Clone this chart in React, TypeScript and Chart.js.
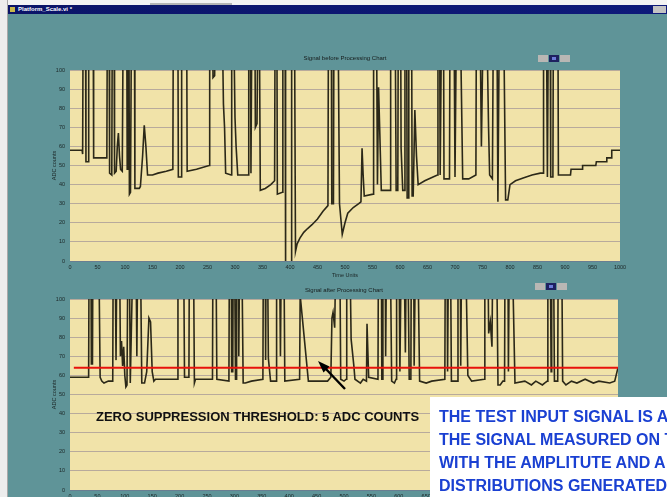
import React, { useEffect, useRef } from "react";
import { Chart, registerables } from "chart.js";

Chart.register(...registerables);

// ---------- data ----------
const xTicks = [0, 50, 100, 150, 200, 250, 300, 350, 400, 450, 500, 550, 600, 650, 700, 750, 800, 850, 900, 950, 1000];
const yTicks = [0, 10, 20, 30, 40, 50, 60, 70, 80, 90, 100];

const beforeTitle = "Signal before Processing Chart";
const afterTitle = "Signal after Processing Chart";
const xTitle = "Time Units";
const yTitle = "ADC counts";

// [time, ADC] breakpoints of the raw signal (values above 100 are saturated / off-scale)
const beforeSignal: [number, number][] = [
  [0, 58], [22, 58], [23, 56], [24, 140], [28, 140], [29, 52], [33, 52], [34, 140], [42, 140], [43, 54],
  [67, 54], [68, 140], [71, 140], [72, 46], [76, 45], [77, 140], [80, 140], [81, 46], [84, 47], [86, 60],
  [88, 67], [90, 55], [92, 48], [95, 47], [97, 140], [103, 140], [104, 48], [105, 140], [107, 140], [108, 35],
  [110, 36], [112, 140], [117, 140], [118, 38], [126, 38], [128, 39], [132, 55], [135, 71], [138, 60], [141, 45],
  [150, 45], [160, 46], [175, 47], [187, 48], [188, 140], [196, 140], [197, 44], [202, 44], [203, 140], [212, 140],
  [213, 47], [230, 48], [253, 50], [254, 140], [259, 140], [260, 96], [263, 97], [264, 140], [276, 140], [279, 82],
  [281, 70], [283, 46], [293, 45], [294, 140], [297, 140], [300, 75], [302, 60], [305, 45], [324, 45], [325, 140],
  [328, 140], [329, 46], [331, 140], [336, 140], [337, 70], [340, 72], [342, 140], [344, 140], [346, 37], [355, 38],
  [365, 40], [372, 42], [373, 140], [376, 140], [377, 35], [386, 36], [387, 140], [391, 140], [392, -5], [402, -5],
  [403, 140], [408, 140], [410, 5], [413, 9], [418, 12], [425, 15], [432, 17], [440, 19], [450, 22], [460, 26],
  [469, 29], [470, 140], [475, 140], [476, 30], [479, 30], [480, 140], [487, 140], [490, 30], [495, 14], [500, 20],
  [505, 25], [515, 28], [525, 30], [529, 31], [531, 59], [533, 45], [535, 34], [551, 35], [552, 140], [557, 140],
  [559, 40], [561, 91], [563, 70], [566, 37], [582, 37], [583, 140], [591, 140], [593, 37], [596, 37], [597, 140],
  [601, 140], [602, 59], [605, 37], [608, 37], [609, 140], [612, 140], [613, 33], [615, 33], [616, 140], [621, 140],
  [622, 34], [624, 34], [627, 79], [630, 55], [633, 40], [645, 42], [660, 44], [668, 45], [669, 140], [672, 140],
  [673, 45], [676, 140], [679, 140], [680, 43], [690, 43], [691, 140], [698, 140], [700, 44], [703, 140], [709, 140],
  [714, 43], [725, 43], [738, 45], [739, 140], [745, 140], [748, 60], [752, 140], [757, 140], [761, 70], [763, 45],
  [768, 43], [770, 140], [776, 140], [778, 31], [781, 140], [788, 140], [792, 32], [796, 32], [800, 40], [810, 42],
  [824, 43.5], [840, 45], [855, 46], [860, 46], [861, 140], [866, 140], [868, 44], [870, 140], [873, 140], [874, 44],
  [878, 44], [879, 140], [887, 140], [888, 45], [910, 45], [911, 48], [931, 48], [932, 50], [956, 50], [957, 52],
  [975, 52], [976, 54], [984, 54], [985, 58], [1000, 58],
];

// [time, ADC] breakpoints of the processed signal
const afterSignal: [number, number][] = [
  [0, 59], [34, 59], [35, 140], [38, 140], [39, 66], [41, 66], [42, 140], [52, 140], [55, 59], [58, 57],
  [62, 56], [70, 57], [78, 57], [79, 140], [82, 140], [84, 68], [86, 140], [90, 140], [92, 70], [94, 78],
  [96, 65], [98, 75], [100, 60], [102, 54], [104, 55], [106, 140], [108, 140], [110, 56], [116, 140], [120, 140],
  [122, 70], [124, 140], [128, 140], [131, 56], [136, 56], [140, 62], [144, 90], [147, 88], [150, 62], [153, 57],
  [156, 58], [196, 58], [197, 140], [207, 140], [209, 59], [217, 59], [218, 140], [225, 140], [227, 56], [229, 58],
  [260, 58], [261, 140], [266, 140], [268, 58], [290, 57], [291, 140], [294, 140], [295, 62], [297, 62], [298, 140],
  [300, 140], [302, 58], [303, 58], [304, 140], [307, 140], [308, 70], [310, 140], [313, 140], [316, 56], [320, 56],
  [331, 57], [352, 58], [353, 140], [356, 140], [357, 68], [358, 140], [360, 140], [362, 69], [366, 57], [376, 57],
  [377, 140], [382, 140], [384, 70], [386, 140], [390, 140], [392, 57], [419, 58], [420, 102], [432, 66], [435, 57],
  [470, 57], [476, 59], [478, 90], [480, 93], [483, 85], [486, 140], [492, 140], [494, 58], [500, 57], [504, 58],
  [505, 140], [510, 140], [513, 79], [518, 65], [520, 58], [530, 56], [535, 58], [541, 57], [542, 87], [545, 59],
  [562, 58], [563, 140], [568, 140], [569, 58], [570, 58], [571, 140], [575, 140], [576, 70], [578, 140], [584, 140],
  [587, 57], [592, 56], [595, 58], [596, 140], [600, 140], [602, 62], [605, 140], [609, 140], [612, 72], [614, 140],
  [616, 140], [619, 58], [622, 58], [623, 140], [627, 140], [628, 65], [631, 140], [634, 140], [638, 57], [650, 56],
  [660, 57], [684, 58], [685, 140], [688, 140], [689, 62], [691, 140], [694, 140], [696, 57], [707, 57], [708, 140],
  [712, 140], [713, 65], [715, 140], [721, 140], [726, 60], [733, 57], [756, 58], [757, 140], [762, 140], [764, 82],
  [767, 88], [770, 75], [772, 140], [778, 140], [781, 55], [785, 55], [790, 57], [793, 57], [794, 140], [799, 140],
  [800, 62], [802, 140], [806, 140], [812, 56], [830, 57], [842, 55], [850, 57], [862, 55], [866, 56], [871, 57],
  [872, 140], [876, 140], [878, 62], [879, 140], [882, 140], [884, 57], [890, 57], [891, 140], [897, 140], [899, 57],
  [905, 55], [915, 57], [925, 56], [940, 58], [955, 56], [965, 57], [985, 56], [994, 57], [1000, 64],
];

// zero-suppression threshold (pedestal + 5 ADC counts)
const thresholdTime = [7, 1000];
const thresholdValue = [64, 64];

const noteBlack = "ZERO SUPPRESSION THRESHOLD: 5 ADC COUNTS";
const noteBlue = [
  "THE TEST INPUT SIGNAL IS A",
  "THE SIGNAL MEASURED ON T",
  "WITH THE AMPLITUTE AND A",
  "DISTRIBUTIONS GENERATED",
];
const windowTitle = "Platform_Scale.vi *";

// ---------- styles ----------
const TEAL = "#5f9498";
const PLOT_BG = "#f1e3a9";
const GRID = "rgba(115,100,140,0.45)";
const LINE = "#2b2818";
const TXT = "#1b2626";
const FONT = "'Liberation Sans', Arial, sans-serif";

const plotBg = {
  id: "plotBg",
  beforeDraw(chart: any) {
    const { ctx, chartArea: a } = chart;
    ctx.save();
    ctx.fillStyle = PLOT_BG;
    ctx.fillRect(a.left, a.top, a.right - a.left, a.bottom - a.top);
    ctx.restore();
  },
};

function makeConfig(
  title: string,
  signal: [number, number][],
  pad: { top: number; left: number; right: number },
  titleBottom: number,
  withThreshold: boolean
): any {
  const datasets: any[] = [];
  if (withThreshold) {
    datasets.push({
      data: thresholdTime.map((t, i) => ({ x: t, y: thresholdValue[i] })),
      borderColor: "#e8120c",
      borderWidth: 2.2,
      pointRadius: 0,
      tension: 0,
      order: 0,
    });
  }
  datasets.push({
    data: signal.map(([x, y]) => ({ x, y })),
    borderColor: LINE,
    borderWidth: 1.6,
    pointRadius: 0,
    tension: 0,
    order: 1,
  });
  return {
    type: "line",
    data: { datasets },
    plugins: [plotBg],
    options: {
      animation: false,
      responsive: false,
      events: [],
      layout: { padding: { top: pad.top, left: pad.left, right: pad.right, bottom: 0 } },
      plugins: {
        legend: { display: false },
        tooltip: { enabled: false },
        title: {
          display: true,
          text: title,
          fullSize: false,
          color: "#161c1c",
          font: { size: 6, family: FONT, weight: "normal" },
          padding: { top: 0, bottom: titleBottom },
        },
      },
      scales: {
        x: {
          type: "linear",
          min: 0,
          max: 1000,
          afterBuildTicks: (ax: any) => {
            ax.ticks = xTicks.map((v) => ({ value: v }));
          },
          afterFit: (ax: any) => {
            ax.height = 23;
          },
          grid: { display: false, drawTicks: false },
          border: { display: false },
          ticks: {
            autoSkip: false,
            maxRotation: 0,
            padding: 3,
            color: TXT,
            font: { size: 5.5, family: FONT },
            callback: (v: any) => String(v),
          },
          title: {
            display: true,
            text: xTitle,
            color: TXT,
            font: { size: 5.5, family: FONT },
            padding: { top: 0, bottom: 5 },
          },
        },
        y: {
          type: "linear",
          min: 0,
          max: 100,
          afterBuildTicks: (ax: any) => {
            ax.ticks = yTicks.map((v) => ({ value: v }));
          },
          afterFit: (ax: any) => {
            ax.width = 20;
          },
          grid: { color: GRID, lineWidth: 1, drawTicks: false },
          border: { display: false },
          ticks: {
            padding: 5,
            color: TXT,
            font: { size: 5.5, family: FONT },
            callback: (v: any) => String(v),
          },
          title: {
            display: true,
            text: yTitle,
            color: TXT,
            font: { size: 5.5, family: FONT },
            padding: { top: 1, bottom: 0 },
          },
        },
      },
    },
  };
}

function ChartCanvas(props: { config: () => any; width: number; height: number; top: number }) {
  const ref = useRef<HTMLCanvasElement | null>(null);
  useEffect(() => {
    if (!ref.current) return;
    const chart = new Chart(ref.current, props.config());
    return () => chart.destroy();
  }, []);
  return (
    <canvas
      ref={ref}
      width={props.width}
      height={props.height}
      style={{ position: "absolute", left: 0, top: props.top, width: props.width, height: props.height, display: "block" }}
    />
  );
}

function ButtonGroup(props: { left: number; top: number }) {
  const base: React.CSSProperties = { position: "absolute", top: 0, height: 7 };
  return (
    <div style={{ position: "absolute", left: props.left, top: props.top, width: 32, height: 7 }}>
      <div style={{ ...base, left: 0, width: 10, background: "#b9b7b4" }} />
      <div style={{ ...base, left: 11, width: 10, background: "#1e2160" }}>
        <div style={{ position: "absolute", left: 3, top: 2, width: 4, height: 3, background: "#6c7bd8" }} />
      </div>
      <div style={{ ...base, left: 22, width: 10, background: "#b9b7b4" }} />
    </div>
  );
}

export default function App() {
  return (
    <div
      style={{
        position: "fixed",
        left: 0,
        top: 0,
        width: 667,
        height: 497,
        overflow: "hidden",
        background: TEAL,
        fontFamily: FONT,
      }}
    >
      {/* window chrome */}
      <div style={{ position: "absolute", left: 0, top: 0, width: 667, height: 5, background: "#f3f3f3" }} />
      <div style={{ position: "absolute", left: 150, top: 3, width: 82, height: 2, background: "#b5b5b5" }} />
      <div style={{ position: "absolute", left: 0, top: 0, width: 7, height: 497, background: "#ededed", borderRight: "1px solid #a9a9a9" }} />
      <div
        style={{
          position: "absolute",
          left: 8,
          top: 5,
          width: 659,
          height: 9,
          background: "linear-gradient(90deg, #0b1468 0%, #0e1a7a 100%)",
        }}
      >
        <div style={{ position: "absolute", left: 2, top: 2, width: 5, height: 5, background: "#c9b84a" }} />
        <div
          style={{
            position: "absolute",
            left: 10,
            top: 0,
            lineHeight: "9px",
            fontSize: 6,
            fontWeight: "bold",
            color: "#ffffff",
            whiteSpace: "nowrap",
          }}
        >
          {windowTitle}
        </div>
        <div style={{ position: "absolute", left: 645, top: 1, width: 13, height: 7, background: "#c3c3c3" }} />
      </div>

      {/* charts */}
      <ChartCanvas
        top={48}
        width={667}
        height={236}
        config={() => makeConfig(beforeTitle, beforeSignal, { top: 6.7, left: 50, right: 47 }, 8.1, false)}
      />
      <ChartCanvas
        top={279}
        width={667}
        height={234}
        config={() => makeConfig(afterTitle, afterSignal, { top: 8, left: 50, right: 49 }, 4.8, true)}
      />

      <ButtonGroup left={538} top={55} />
      <ButtonGroup left={535} top={283} />

      {/* annotations */}
      <svg
        width={667}
        height={497}
        style={{ position: "absolute", left: 0, top: 0, pointerEvents: "none" }}
      >
        <line x1={345} y1={389} x2={325} y2={368} stroke="#000" strokeWidth={2.4} />
        <polygon points="318,361 329.5,366.5 323.5,372.5" fill="#000" />
      </svg>

      <div
        style={{
          position: "absolute",
          left: 96,
          top: 409.7,
          fontSize: 13,
          lineHeight: "13px",
          fontWeight: "bold",
          color: "#111",
          whiteSpace: "nowrap",
        }}
      >
        {noteBlack}
      </div>

      <div
        style={{
          position: "absolute",
          left: 430,
          top: 397,
          width: 237,
          height: 100,
          background: "#ffffff",
          overflow: "hidden",
          boxSizing: "border-box",
          padding: "8px 0 0 9px",
        }}
      >
        {noteBlue.map((s, i) => (
          <div
            key={i}
            style={{
              fontSize: 16,
              lineHeight: "23px",
              fontWeight: "bold",
              color: "#1a40d2",
              whiteSpace: "nowrap",
            }}
          >
            {s}
          </div>
        ))}
      </div>
    </div>
  );
}
